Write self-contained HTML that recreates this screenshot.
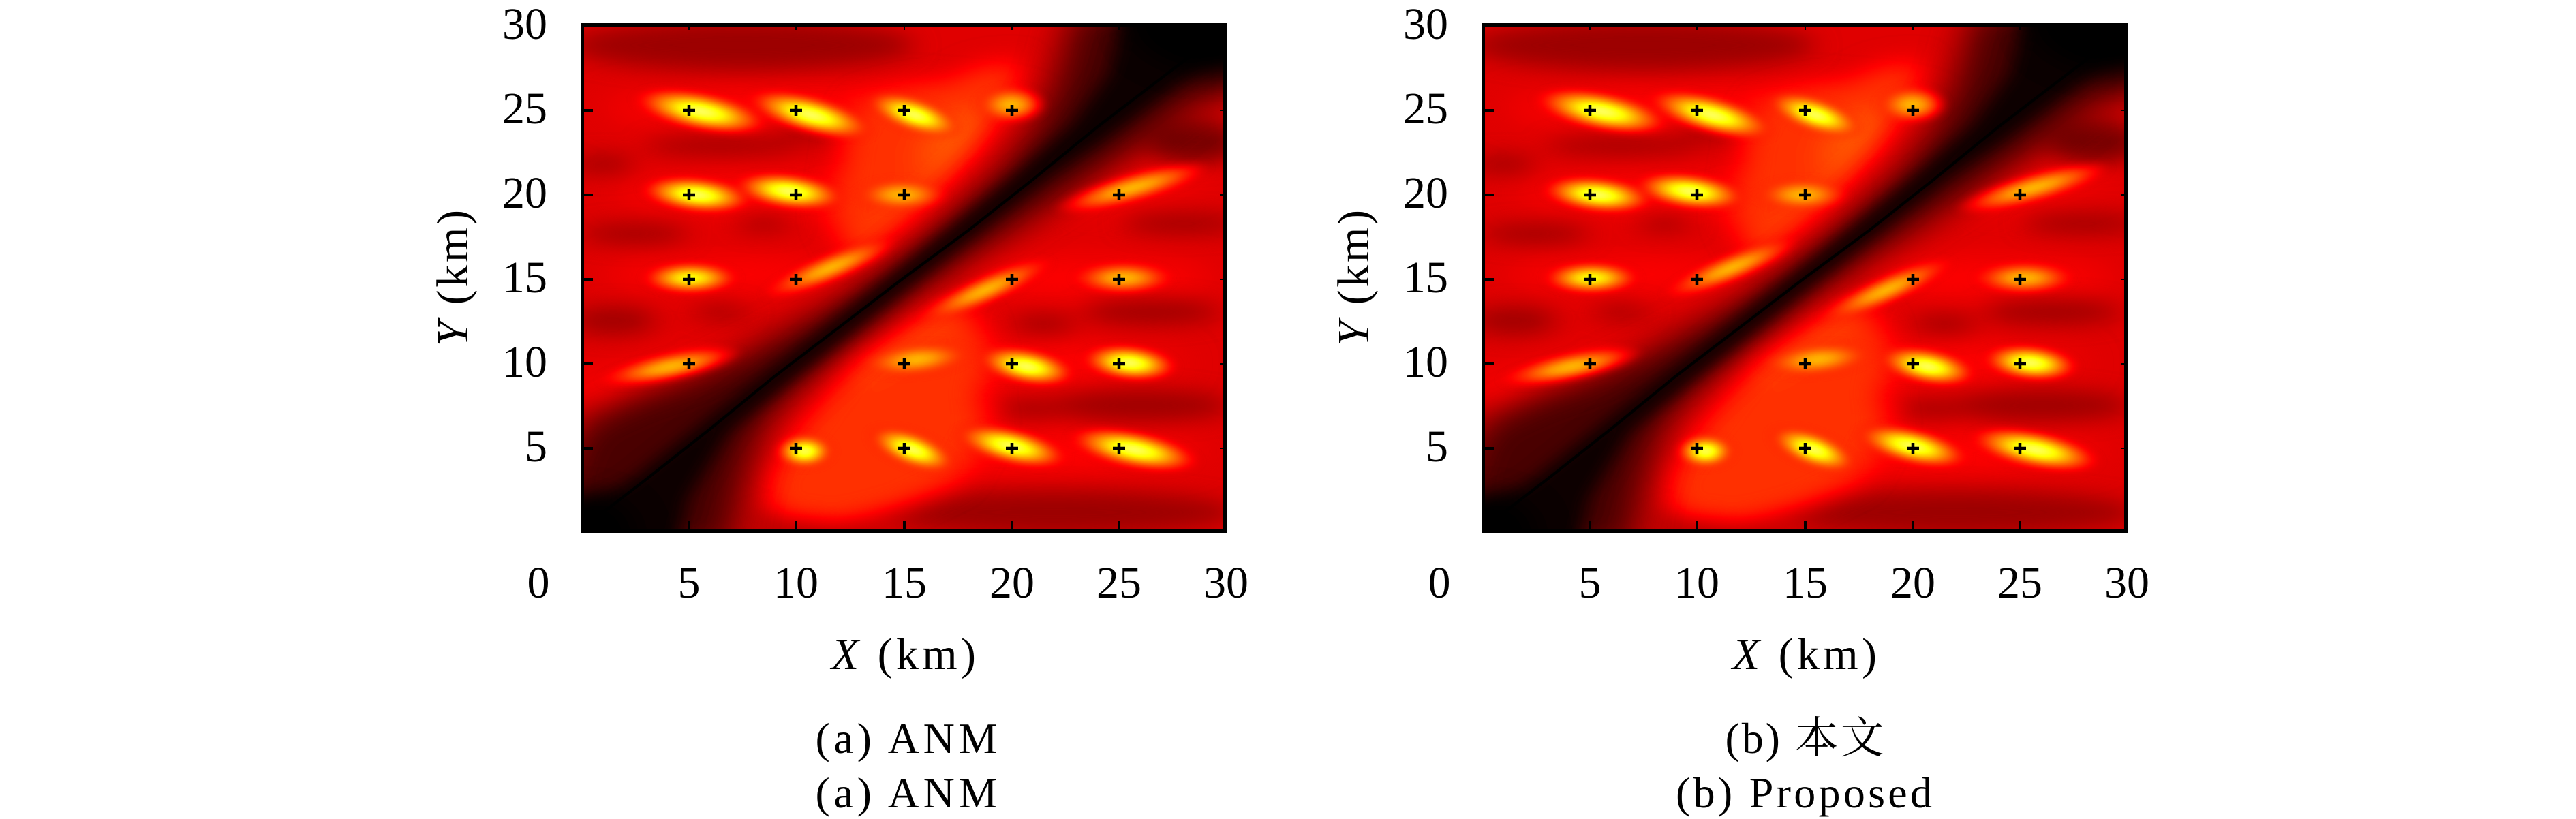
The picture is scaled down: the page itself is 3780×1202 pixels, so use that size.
<!DOCTYPE html>
<html><head><meta charset="utf-8"><style>html,body{margin:0;padding:0;background:#fff}svg{display:block}text{font-family:"Liberation Serif","DejaVu Serif","Noto Serif CJK SC",serif;fill:#000}</style></head><body>
<svg xmlns="http://www.w3.org/2000/svg" xmlns:xlink="http://www.w3.org/1999/xlink" width="3780" height="1202" viewBox="0 0 3780 1202" font-family="Liberation Serif, DejaVu Serif, Noto Serif CJK SC, serif">
<defs>
<filter id="hot" filterUnits="userSpaceOnUse" x="0" y="0" width="30" height="30" color-interpolation-filters="sRGB">
<feComponentTransfer>
<feFuncR type="table" tableValues="0 0.333 0.667 1 1 1 1 1 1"/>
<feFuncG type="table" tableValues="0 0 0 0 0.333 0.667 1 1 1"/>
<feFuncB type="table" tableValues="0 0 0 0 0 0 0 0.5 1"/>
</feComponentTransfer>
</filter>
<filter id="b2" filterUnits="userSpaceOnUse" x="-3" y="-3" width="36" height="36" color-interpolation-filters="sRGB"><feGaussianBlur stdDeviation="0.18"/></filter>
<filter id="b4" filterUnits="userSpaceOnUse" x="-3" y="-3" width="36" height="36" color-interpolation-filters="sRGB"><feGaussianBlur stdDeviation="0.45"/></filter>
<filter id="b6" filterUnits="userSpaceOnUse" x="-3" y="-3" width="36" height="36" color-interpolation-filters="sRGB"><feGaussianBlur stdDeviation="0.6"/></filter>
<filter id="b7" filterUnits="userSpaceOnUse" x="-3" y="-3" width="36" height="36" color-interpolation-filters="sRGB"><feGaussianBlur stdDeviation="0.7"/></filter>
<filter id="b9" filterUnits="userSpaceOnUse" x="-3" y="-3" width="36" height="36" color-interpolation-filters="sRGB"><feGaussianBlur stdDeviation="0.9"/></filter>
<radialGradient id="gY">
<stop offset="0" stop-color="#e0e0e0"/>
<stop offset="0.15" stop-color="#d4d4d4"/>
<stop offset="0.35" stop-color="#bcbcbc"/>
<stop offset="0.5" stop-color="#a3a3a3" stop-opacity="0.95"/>
<stop offset="0.68" stop-color="#8a8a8a" stop-opacity="0.8"/>
<stop offset="0.85" stop-color="#707070" stop-opacity="0.45"/>
<stop offset="1" stop-color="#626262" stop-opacity="0"/>
</radialGradient>
<radialGradient id="gO">
<stop offset="0" stop-color="#ababab"/>
<stop offset="0.3" stop-color="#9c9c9c"/>
<stop offset="0.55" stop-color="#878787" stop-opacity="0.85"/>
<stop offset="0.78" stop-color="#747474" stop-opacity="0.5"/>
<stop offset="1" stop-color="#666666" stop-opacity="0"/>
</radialGradient>
<g id="field">
<rect x="-2" y="-2" width="34" height="34" fill="#545454"/>
<g fill="#616161" filter="url(#b9)">
<ellipse cx="11" cy="5" rx="10" ry="1.3"/>
<ellipse cx="9" cy="10" rx="7.5" ry="1.2"/>
<ellipse cx="7" cy="14.8" rx="6" ry="1"/>
<ellipse cx="23.5" cy="15" rx="6" ry="1.1"/>
<ellipse cx="20" cy="20" rx="8" ry="1.2"/>
<ellipse cx="19" cy="25.2" rx="10" ry="1.3"/>
<ellipse cx="4" cy="20.5" rx="4.5" ry="0.9" transform="rotate(-15 4 20.5)"/>
<ellipse cx="26" cy="9.5" rx="4" ry="0.9" transform="rotate(-20 26 9.5)"/>
<ellipse cx="1" cy="21.5" rx="1.5" ry="1"/>
</g>
<g fill="#3b3b3b" filter="url(#b6)">
<ellipse cx="7.5" cy="1.3" rx="8" ry="1.5"/>
<ellipse cx="6.5" cy="7.2" rx="3.5" ry="0.5"/>
<ellipse cx="1" cy="8.3" rx="1.5" ry="0.5"/>
<ellipse cx="10.5" cy="6.6" rx="1.5" ry="0.4"/>
<ellipse cx="2.5" cy="12.4" rx="2.5" ry="0.55"/>
<ellipse cx="8.5" cy="11.8" rx="1.3" ry="0.4"/>
<ellipse cx="1.5" cy="17.5" rx="2" ry="0.8"/>
<ellipse cx="6.5" cy="17" rx="1.3" ry="0.4"/>
<ellipse cx="28" cy="11.8" rx="2.8" ry="0.55"/>
<ellipse cx="26.5" cy="17" rx="3.2" ry="0.7"/>
<ellipse cx="21.5" cy="17.7" rx="1.5" ry="0.5"/>
<ellipse cx="26" cy="22.5" rx="4.2" ry="0.9"/>
<ellipse cx="21" cy="22.7" rx="1.5" ry="0.5"/>
<ellipse cx="22" cy="28.8" rx="8.5" ry="1.3"/>
<ellipse cx="11" cy="29.4" rx="3" ry="0.7"/>
<ellipse cx="28.5" cy="7" rx="2.2" ry="1.3" fill="#2e2e2e"/>
</g>
<g fill="#727272" filter="url(#b7)">
<polygon points="12.5,13.8 14.2,12 16.2,9.8 17.8,7.7 19.3,5.7 20.3,3.7 20.5,2.2 18.5,2.5 17,3.5 15.5,3.7 13,4.5 12.3,6.5 12,9 11.5,11.5"/>
<polygon points="9,29 8.5,27 10,24 11.5,21.5 13,19.5 15.5,17.5 17.5,16.5 18.5,17.5 19,20 18.5,22 19,23.5 17.5,27 15,28.5 12,29.5"/>
<ellipse cx="15" cy="18.7" rx="3.5" ry="0.55" transform="rotate(-45 15 18.7)" fill="#7c7c7c"/>
<ellipse cx="15.5" cy="10.5" rx="4.5" ry="0.5" transform="rotate(-50 15.5 10.5)" fill="#7c7c7c"/>
<ellipse cx="17.3" cy="7" rx="2.2" ry="1.2" transform="rotate(-55 17.3 7)" fill="#808080"/>
</g>
<g fill="#1c1c1c" filter="url(#b9)">
<polygon points="-1,26.5 0,23.5 2.5,22 5.2,20.8 7.9,19.2 10.6,17.4 12.3,16.1 14.1,14.6 15.9,12.8 17.8,10.7 19.7,8.4 21,6.2 22,3.5 22.5,1 23,-1 31,-1 31,4 28.5,4.8 26.5,6.8 23,9.8 19.8,12.4 16.6,15 14.8,16.6 13.2,18.2 11.6,19.8 9.8,21.8 8.6,23.5 7.8,26 7.3,28.5 7,31 -1,31"/>
</g>
<g fill="#050505" filter="url(#b4)">
<polygon points="-1,29 2.2,27 5.2,24 8.2,21 11.2,18 14.2,15 17.2,12 20.1,9 22.8,6 24.5,3 25,0.5 25,-1 31,-1 31,1 29,2.5 26.5,4.8 24.2,7 21.8,9 18.8,12 15.8,15 12.8,18 9.8,21 6.9,24 5,28 4.5,31 -1,31"/>
</g>
<g fill="#000" filter="url(#b7)">
<ellipse cx="30" cy="0" rx="4.5" ry="3"/>
<ellipse cx="0" cy="30" rx="2.6" ry="2.3"/>
</g>
<polyline points="0,29.8 3,26.9 6,23.9 9,20.8 12,17.9 15,15 18,12.2 21,9.2 24,6.1 27,3.2 30,0.3" fill="none" stroke="#000" stroke-width="0.15"/>
<g filter="url(#b2)">
<ellipse cx="5.6" cy="5.2" rx="3.3" ry="1.2" transform="rotate(15 5.6 5.2)" fill="url(#gY)"/>
<ellipse cx="10.7" cy="5.4" rx="3.2" ry="1.15" transform="rotate(20 10.7 5.4)" fill="url(#gY)"/>
<ellipse cx="15.5" cy="5.4" rx="2.5" ry="1.05" transform="rotate(25 15.5 5.4)" fill="url(#gY)"/>
<ellipse cx="20" cy="4.8" rx="1.7" ry="1.15" fill="url(#gO)"/>
<ellipse cx="5.4" cy="10.1" rx="2.7" ry="1.1" transform="rotate(8 5.4 10.1)" fill="url(#gY)"/>
<ellipse cx="9.7" cy="9.9" rx="2.7" ry="1.1" transform="rotate(10 9.7 9.9)" fill="url(#gY)"/>
<ellipse cx="14.9" cy="10.1" rx="2.2" ry="1" fill="url(#gO)"/>
<ellipse cx="25.6" cy="9.7" rx="3.9" ry="0.9" transform="rotate(-20 25.6 9.7)" fill="url(#gO)"/>
<ellipse cx="5.1" cy="15" rx="2.3" ry="1" fill="url(#gY)" opacity="0.85"/>
<ellipse cx="11.6" cy="14.4" rx="3.6" ry="0.85" transform="rotate(-28 11.6 14.4)" fill="url(#gO)"/>
<ellipse cx="18.8" cy="15.7" rx="3.6" ry="0.85" transform="rotate(-30 18.8 15.7)" fill="url(#gO)"/>
<ellipse cx="25.2" cy="15" rx="2.4" ry="1" fill="url(#gO)"/>
<ellipse cx="4.2" cy="20.2" rx="3.5" ry="0.9" transform="rotate(-15 4.2 20.2)" fill="url(#gO)"/>
<ellipse cx="15.6" cy="19.8" rx="2.7" ry="1" transform="rotate(-8 15.6 19.8)" fill="url(#gO)"/>
<ellipse cx="20.7" cy="20.2" rx="2.4" ry="1.1" transform="rotate(15 20.7 20.2)" fill="url(#gY)"/>
<ellipse cx="25.5" cy="20" rx="2.3" ry="1.1" transform="rotate(8 25.5 20)" fill="url(#gY)"/>
<ellipse cx="10.4" cy="25.2" rx="1.4" ry="1.05" fill="url(#gY)"/>
<ellipse cx="15.4" cy="25.1" rx="2.3" ry="1.05" transform="rotate(28 15.4 25.1)" fill="url(#gY)"/>
<ellipse cx="20" cy="24.9" rx="2.8" ry="1.1" transform="rotate(18 20 24.9)" fill="url(#gY)"/>
<ellipse cx="25.7" cy="25.1" rx="3.2" ry="1.15" transform="rotate(15 25.7 25.1)" fill="url(#gY)"/>
</g>
</g>
<g id="deco">
<path d="M1002 162h18M1011 154v16M1159 162h18M1168 154v16M1318 162h18M1327 154v16M1476 162h18M1485 154v16M1002 286h18M1011 278v16M1159 286h18M1168 278v16M1318 286h18M1327 278v16M1633 286h18M1642 278v16M1002 410h18M1011 402v16M1159 410h18M1168 402v16M1476 410h18M1485 402v16M1633 410h18M1642 402v16M1002 534h18M1011 526v16M1318 534h18M1327 526v16M1476 534h18M1485 526v16M1633 534h18M1642 526v16M1159 658h18M1168 650v16M1318 658h18M1327 650v16M1476 658h18M1485 650v16M1633 658h18M1642 650v16" stroke="#000" stroke-width="4.5" fill="none"/>
<path d="M852 162H870M852 286H870M852 410H870M852 534H870M852 658H870M1011 782V764M1168 782V764M1327 782V764M1485 782V764M1642 782V764" stroke="#000" stroke-width="4" fill="none"/>
<path d="M1011 34V44M1168 34V44M1327 34V44M1485 34V44M1642 34V44M1800 162H1790M1800 286H1790M1800 410H1790M1800 534H1790M1800 658H1790" stroke="#000" stroke-width="2" fill="none"/>
<rect x="854.5" y="36.5" width="943" height="743" fill="none" stroke="#000" stroke-width="5"/>
</g>
</defs>
<rect x="0" y="0" width="3780" height="1202" fill="#fff"/>
<svg x="852" y="34" width="948" height="748" viewBox="0 0 30 30" preserveAspectRatio="none"><g filter="url(#hot)"><use href="#field" xlink:href="#field"/></g></svg>
<svg x="2174" y="34" width="948" height="748" viewBox="0 0 30 30" preserveAspectRatio="none"><g filter="url(#hot)"><use href="#field" xlink:href="#field"/></g></svg>
<use href="#deco" xlink:href="#deco"/>
<use href="#deco" xlink:href="#deco" transform="translate(1322 0)"/>

<g font-size="66" text-anchor="end" font-family="Liberation Serif, DejaVu Serif, Noto Serif CJK SC, serif">
<text x="803" y="57">30</text>
<text x="803" y="181">25</text>
<text x="803" y="305">20</text>
<text x="803" y="429">15</text>
<text x="803" y="553">10</text>
<text x="803" y="677">5</text>
<text x="2125" y="57">30</text>
<text x="2125" y="181">25</text>
<text x="2125" y="305">20</text>
<text x="2125" y="429">15</text>
<text x="2125" y="553">10</text>
<text x="2125" y="677">5</text>
</g>
<g font-size="66" text-anchor="middle" font-family="Liberation Serif, DejaVu Serif, Noto Serif CJK SC, serif">
<text x="790" y="877">0</text>
<text x="1011" y="877">5</text>
<text x="1168" y="877">10</text>
<text x="1327" y="877">15</text>
<text x="1485" y="877">20</text>
<text x="1642" y="877">25</text>
<text x="1799" y="877">30</text>
<text x="2112" y="877">0</text>
<text x="2333" y="877">5</text>
<text x="2490" y="877">10</text>
<text x="2649" y="877">15</text>
<text x="2807" y="877">20</text>
<text x="2964" y="877">25</text>
<text x="3121" y="877">30</text>
<text x="1326" y="982" textLength="212" lengthAdjust="spacing"><tspan font-style="italic">X</tspan> (km)</text>
<text x="2648" y="982" textLength="212" lengthAdjust="spacing"><tspan font-style="italic">X</tspan> (km)</text>
<text transform="translate(686 408) rotate(-90)" textLength="200" lengthAdjust="spacing"><tspan font-style="italic">Y</tspan> (km)</text>
<text transform="translate(2008 408) rotate(-90)" textLength="200" lengthAdjust="spacing"><tspan font-style="italic">Y</tspan> (km)</text>
</g>
<g font-size="64" text-anchor="middle" font-family="Liberation Serif, DejaVu Serif, Noto Serif CJK SC, serif">
<text x="1330" y="1105" textLength="267" lengthAdjust="spacing">(a) ANM</text>
<text x="1330" y="1185" textLength="267" lengthAdjust="spacing">(a) ANM</text>
<text x="2648" y="1105" textLength="233" lengthAdjust="spacing">(b) 本文</text>
<text x="2647" y="1185" textLength="376" lengthAdjust="spacing">(b) Proposed</text>
</g>
</svg>
</body></html>
